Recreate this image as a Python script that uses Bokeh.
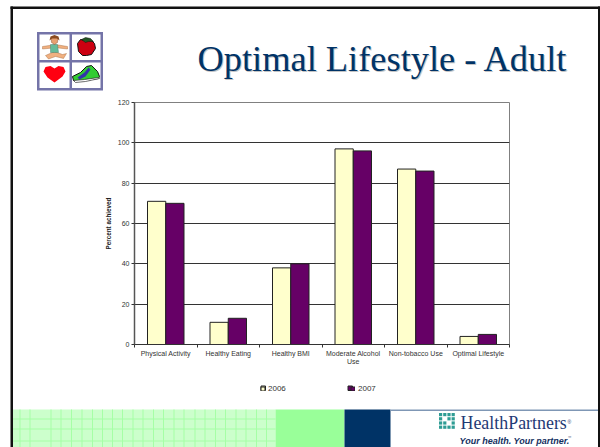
from bokeh.core.properties import value
from bokeh.embed import file_html
from bokeh.models import (ColumnDataSource, FixedTicker, Legend, LegendItem, Range1d)
from bokeh.plotting import figure
from bokeh.resources import INLINE

categories = ["Physical Activity", "Healthy Eating", "Healthy BMI",
              "Moderate Alcohol\nUse", "Non-tobacco Use", "Optimal Lifestyle"]
series_names = ["2006", "2007"]
series_2006 = [71, 11, 38, 97, 87, 4]
series_2007 = [70, 13, 40, 96, 86, 5]
y_ticks = [0, 20, 40, 60, 80, 100, 120]
title_text = "Optimal Lifestyle - Adult"
color_2006 = "#FFFFCC"
color_2007 = "#660066"

W, H = 600, 447

# ---------- slide background: a figure whose frame is the whole page ----------
bg = figure(width=W, height=H, output_backend="svg", toolbar_location=None,
            x_range=Range1d(0, W), y_range=Range1d(H, 0), x_axis_type="linear",
            min_border=0, outline_line_color=None, background_fill_color="white")
bg.xaxis.visible = False
bg.yaxis.visible = False
bg.grid.visible = False


def box(x0, y0, x1, y1, color, line=None):
    return bg.quad(left=[x0], right=[x1], top=[y0], bottom=[y1], fill_color=color, line_color=line)


def poly(pts, color, line=None, lw=0.7):
    bg.patch([a for a, _ in pts], [b for _, b in pts], fill_color=color, line_color=line, line_width=lw)


def text(x, y, s, size, color, font="Liberation Sans", style="normal"):
    # y is the wanted baseline; the svg text box is anchored about 0.36 em above it
    bg.text(x=[x], y=[y - 0.36 * size], text=[s], text_font=value(font), text_font_size=f"{size}px",
            text_color=color, text_font_style=style, text_baseline="alphabetic", text_align="left")


# slide frame
box(10, 6, 600, 8.5, "#111111")
box(10, 6, 12.5, 447, "#111111")
box(597.5, 6, 600, 447, "#111111")

# title with its shadow
text(198, 73, title_text, 36.4, "#C4C4C4", font="Liberation Serif")
text(197, 72, title_text, 36.4, "#003366", font="Liberation Serif")

# footer
box(12.5, 409, 275, 447, "#CCFFCC")
for vx in [19, 29, 50, 60, 70.5, 81, 91.5, 101.5, 111.5, 121.5, 132, 142, 152.5, 162.5, 173, 183,
           194, 204, 214.5, 224.5, 235, 245, 255.5, 265.5]:
    box(vx, 409, vx + 1, 447, "#A6FFA6")
for hy in [418, 428, 440]:
    box(12.5, hy, 275, hy + 1, "#A6FFA6")
box(275, 409, 344, 447, "#99FF99")
box(344, 409, 390, 447, "#003366")
box(390, 409, 597.5, 410.5, "#7F97B5")

# HealthPartners mark
for i in range(4):
    for j in range(4):
        if (i, j) not in ((1, 1), (2, 2)):
            box(438.5 + i * 4.2, 412.5 + j * 4.2, 441.7 + i * 4.2, 415.7 + j * 4.2, "#2E9C94")
text(460, 429, "HealthPartners", 17.9, "#1F3A75", font="Liberation Serif")
text(567, 423, "\u00ae", 5, "#1F3A75")
text(459, 443.5, "Your health. Your partner.", 9, "#14305F", style="bold italic")
text(567, 438, "\u2120", 4, "#14305F")

# logo tile
box(36.5, 31.5, 102.5, 90, "#7474A8")
box(39, 34, 69, 59.5, "white")
box(71.5, 34, 100, 59.5, "white")
box(39, 62, 69, 87.5, "white")
box(71.5, 62, 100, 87.5, "white")
# person
poly([(42, 46), (52, 44.5), (58, 44.5), (67, 46), (67, 48.5), (58, 47.5), (52, 47.5), (42, 48.5)], "#F0B080", "#A06030", 0.4)
poly([(45, 55), (54, 51), (62, 54), (66, 53), (63, 58), (55, 56), (48, 58.5)], "#F0B080", "#A06030", 0.4)
poly([(50, 44), (57, 44), (58, 52), (50, 52)], "#66BB99", "#407060", 0.4)
poly([(50.5, 38), (54, 36), (57.5, 38), (57, 42), (54, 44), (51, 42)], "#E8A070", "#704020", 0.4)
poly([(49, 40), (50, 36), (54, 34.5), (58, 36), (59, 40), (56.5, 38), (51.5, 38)], "#8A4A20")
# apple
poly([(77, 43), (80, 39), (85, 40), (90, 39), (94, 43), (95, 48), (91, 54), (86, 55), (82, 55), (78, 51)],
     "#CC0011", "#111111", 1)
poly([(81, 39), (85, 37), (90, 38), (93, 41), (88, 41), (85, 42)], "#225522", "#111111", 0.5)
# heart
poly([(43, 71), (45, 66.5), (50, 65.5), (54, 68), (58, 65.5), (63, 66.5), (65, 71), (62, 76), (54, 82), (47, 77)],
     "#FF0011")
# shoe
poly([(72, 76), (80, 72), (86, 66), (91, 65), (97, 71), (99, 76), (98, 78), (84, 80), (76, 81), (73, 80)],
     "#33CC33", "#111111", 1)
poly([(77, 77), (84, 72), (88, 67), (90, 69), (85, 76), (79, 79)], "#3333AA")
poly([(73, 80), (84, 79), (98, 77), (99, 78), (85, 81), (75, 82)], "white", "#111111", 0.6)

# legend: it lies outside the chart's plot area, so it lives on the slide figure
key_2006 = box(260.5, 385.5, 265, 390, color_2006, "#222222")
key_2007 = box(347.5, 385.5, 352, 390, color_2007, "#222222")
legend = Legend(items=[LegendItem(label=series_names[0], renderers=[key_2006]),
                       LegendItem(label=series_names[1], renderers=[key_2007])],
                orientation="horizontal", location=(260, 54), padding=0, margin=0, spacing=62,
                glyph_width=5, glyph_height=5, label_standoff=3, label_height=8,
                label_text_font="Liberation Sans", label_text_font_size="8px", label_text_color="#333333",
                border_line_color=None, background_fill_alpha=0)
bg.add_layout(legend, "center")

# ---------- chart, laid exactly over the slide ----------
p = figure(width=W, height=H, output_backend="svg", toolbar_location=None,
           x_range=Range1d(0, len(categories)), y_range=Range1d(0, 120),
           min_border_left=134, min_border_right=91, min_border_top=102, min_border_bottom=103,
           background_fill_alpha=0, border_fill_alpha=0,
           styles={"position": "absolute", "left": "0px", "top": "0px"})
p.outline_line_color = "#808080"

centers = [i + 0.5 for i in range(len(categories))]
bw = 0.292
src = ColumnDataSource(dict(x06=[c - bw / 2 for c in centers], x07=[c + bw / 2 for c in centers],
                            y06=series_2006, y07=series_2007))
p.vbar(x="x06", top="y06", width=bw, source=src, fill_color=color_2006, line_color="#222222", line_width=1)
p.vbar(x="x07", top="y07", width=bw, source=src, fill_color=color_2007, line_color="#222222", line_width=1)

p.xgrid.visible = False
p.ygrid.ticker = FixedTicker(ticks=y_ticks[1:])
p.ygrid.grid_line_color = "#333333"

ax = p.xaxis[0]
ax.ticker = FixedTicker(ticks=centers, minor_ticks=list(range(len(categories) + 1)))
ax.major_label_overrides = {c: t for c, t in zip(centers, categories)}
ax.major_tick_out = 0
ax.major_tick_in = 0
ax.major_tick_line_color = None
ax.minor_tick_out = 3
ax.minor_tick_in = 0
ax.minor_tick_line_color = "#333333"
ax.axis_line_color = "#333333"
ax.major_label_text_font = "Liberation Sans"
ax.major_label_text_font_size = "7px"
ax.major_label_text_color = "#333333"
ax.major_label_standoff = 2

ay = p.yaxis[0]
ay.ticker = FixedTicker(ticks=y_ticks)
ay.minor_tick_line_color = None
ay.major_tick_out = 3
ay.major_tick_in = 0
ay.major_tick_line_color = "#333333"
ay.axis_line_color = "#555555"
ay.axis_line_width = 1.5
ay.major_label_text_font = "Liberation Sans"
ay.major_label_text_font_size = "7px"
ay.major_label_text_color = "#333333"
ay.major_label_standoff = 2
ay.axis_label = "Percent achieved"
ay.axis_label_text_font = "Liberation Sans"
ay.axis_label_text_font_style = "bold"
ay.axis_label_text_font_size = "6.3px"
ay.axis_label_text_color = "#222222"
ay.axis_label_standoff = 3

open("out.html", "w").write(file_html([bg, p], INLINE))
